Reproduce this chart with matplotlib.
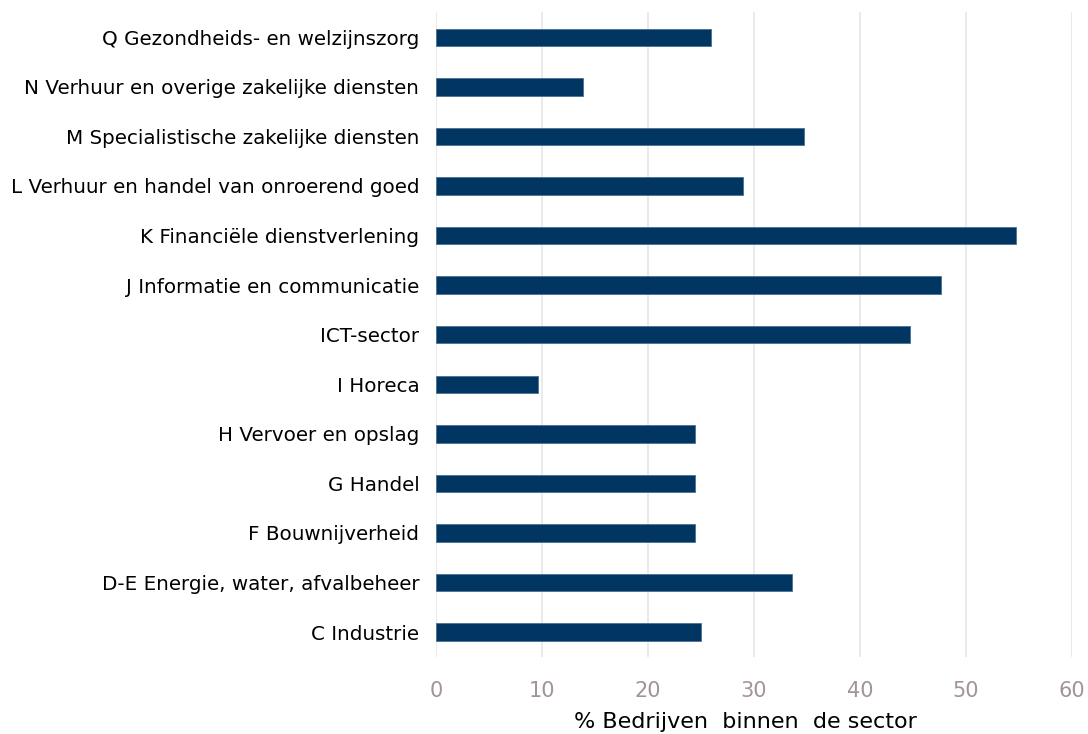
import matplotlib
matplotlib.use('Agg')
import matplotlib.pyplot as plt

# sectors, bottom to top as drawn
sectors = [
    'C Industrie',
    'D-E Energie, water, afvalbeheer',
    'F Bouwnijverheid',
    'G Handel',
    'H Vervoer en opslag',
    'I Horeca',
    'ICT-sector',
    'J Informatie en communicatie',
    'K Financiële dienstverlening',
    'L Verhuur en handel van onroerend goed',
    'M Specialistische zakelijke diensten',
    'N Verhuur en overige zakelijke diensten',
    'Q Gezondheids- en welzijnszorg',
]
pct_bedrijven = [25.0, 33.6, 24.4, 24.4, 24.4, 9.6, 44.7, 47.6, 54.7, 29.0, 34.7, 13.9, 25.9]
x_ticks = [0, 10, 20, 30, 40, 50, 60]

BAR_COLOR = '#023662'
TICK_COLOR = '#a09494'
GRID_COLOR = '#e6e6e6'

plt.rcParams['font.family'] = ['DejaVu Sans']

fig = plt.figure(figsize=(10.88, 7.34), dpi=100)
ax = fig.add_axes([0.4007, 0.105, 0.5846, 0.878])

ax.barh(range(len(sectors)), pct_bedrijven, height=0.35, color=BAR_COLOR,
        edgecolor='#4a6f93', linewidth=0.6, zorder=3)

ax.set_xlim(0, 60)
ax.set_ylim(-0.5, len(sectors) - 0.5)
ax.set_xticks(x_ticks)
ax.set_yticks(range(len(sectors)))
ax.set_yticklabels(sectors, fontsize=14.3, color='black')
ax.tick_params(axis='y', length=0, pad=12)
ax.tick_params(axis='x', length=0, pad=17, labelsize=15, labelcolor=TICK_COLOR)

ax.grid(axis='x', color=GRID_COLOR, linewidth=1.2, zorder=0)
for spine in ax.spines.values():
    spine.set_visible(False)

ax.set_xlabel('% Bedrijven  binnen  de sector', fontsize=16, labelpad=8)
ax.xaxis.label.set_x(0.486)

fig.savefig('out.png', dpi=100)
